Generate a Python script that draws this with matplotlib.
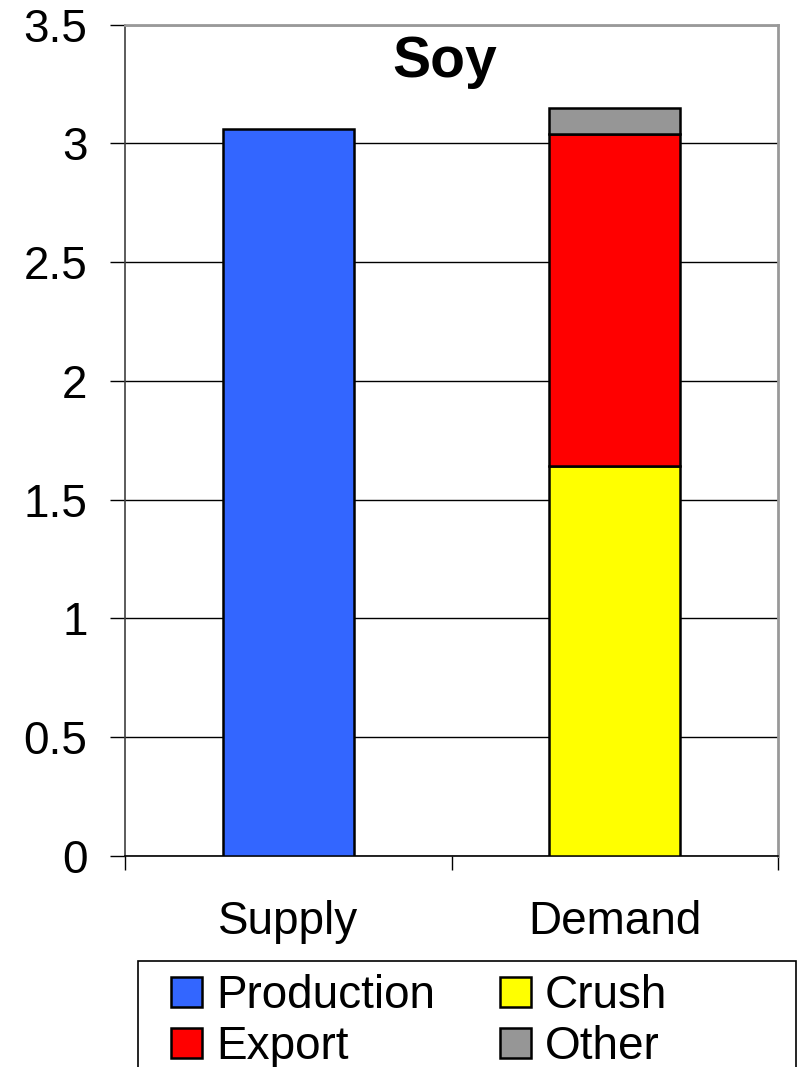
import matplotlib
matplotlib.use("Agg")
import matplotlib.pyplot as plt
from matplotlib.patches import Rectangle

plt.rcParams['font.family'] = ['Liberation Sans', 'DejaVu Sans']

# data
categories = ["Supply", "Demand"]
production = [3.06, 0]
crush = [0, 1.64]
export = [0, 1.40]
other = [0, 0.11]
yticks = [0, 0.5, 1, 1.5, 2, 2.5, 3, 3.5]
ytick_labels = ["0", "0.5", "1", "1.5", "2", "2.5", "3", "3.5"]

W, H = 798, 1067
fig = plt.figure(figsize=(W / 100, H / 100), dpi=100)
ax = fig.add_axes([125 / W, 1 - 856 / H, (778 - 125) / W, (856 - 24.5) / H])

x = [0, 1]
bw = 0.4
ek = dict(edgecolor='black', linewidth=1.8, zorder=3)
b1 = ax.bar(x, production, bw, color='#3366FF', **ek)
b2 = ax.bar(x[1], crush[1], bw, color='#FFFF00', **ek)
b3 = ax.bar(x[1], export[1], bw, bottom=crush[1], color='#FF0000', **ek)
b4 = ax.bar(x[1], other[1], bw, bottom=crush[1] + export[1], color='#969696', **ek)

fs = 33
ax.set_xlim(-0.5, 1.5)
ax.set_ylim(0, 3.5)
ax.set_yticks(yticks)
ax.set_yticklabels(ytick_labels, fontsize=fs)
ax.yaxis.grid(True, color='black', linewidth=1)
ax.set_axisbelow(True)
ax.tick_params(axis='y', direction='out', length=11, width=1, pad=16, colors='black')

ax.set_xticks(x)
ax.set_xticklabels(categories, fontsize=fs)
ax.set_xticks([-0.5, 0.5, 1.5], minor=True)
ax.tick_params(axis='x', which='major', length=0, pad=32)
ax.tick_params(axis='x', which='minor', direction='out', length=10, width=1)

ax.spines['left'].set_color('#404040')
ax.spines['left'].set_linewidth(1.2)
ax.spines['bottom'].set_color('black')
ax.spines['bottom'].set_linewidth(1.2)
for s in ['top', 'right']:
    ax.spines[s].set_color('#999999')
    ax.spines[s].set_linewidth(2)

ax.text(0.489, 0.9366, "Soy", transform=ax.transAxes, fontsize=41,
        fontweight='bold', ha='center', va='baseline')

# legend box, cut off at the bottom of the figure
fig.patches.append(Rectangle((138 / W, -0.05), (796 - 138) / W, 0.05 + 1 - 961 / H,
                             transform=fig.transFigure, fill=False,
                             edgecolor='black', linewidth=1.2))
fig.legend([b1, b3, b2, b4], ["Production", "Export", "Crush", "Other"],
           loc='upper left', bbox_to_anchor=(171 / W, 1 - 974 / H), ncol=2,
           frameon=False, fontsize=fs, handlelength=0.68, handleheight=0.63,
           handletextpad=0.31, columnspacing=1.4, labelspacing=0.15,
           borderpad=0, borderaxespad=0)

fig.savefig("out.png", dpi=100)
